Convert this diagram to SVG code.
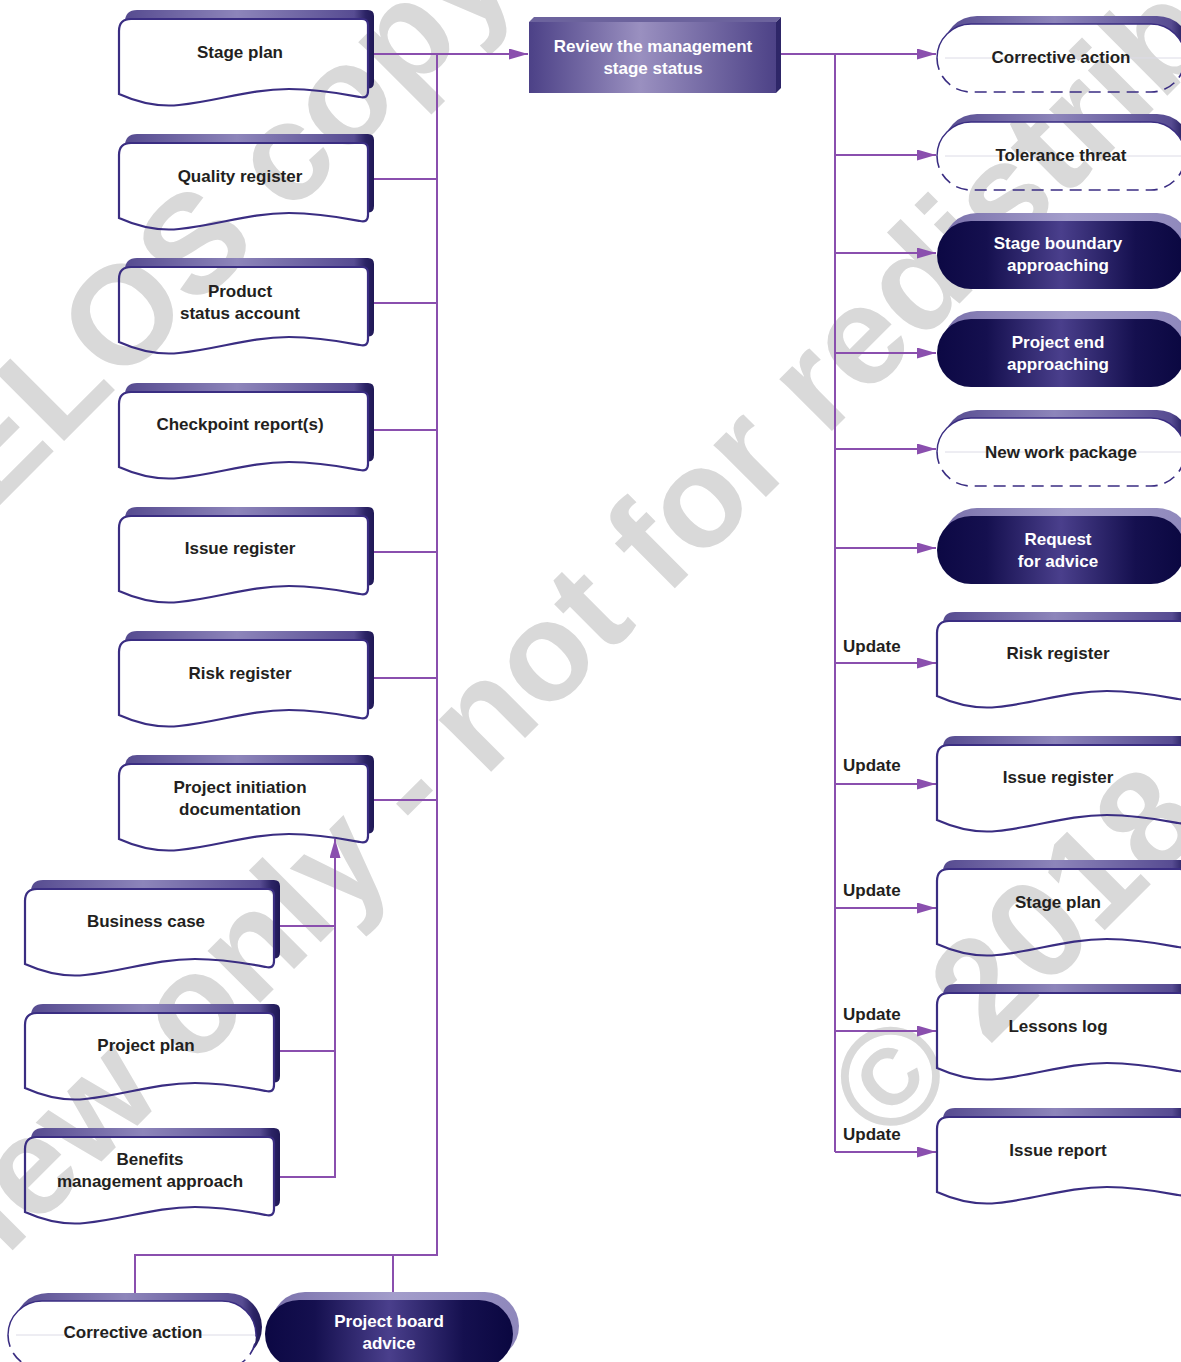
<svg xmlns="http://www.w3.org/2000/svg" width="1181" height="1362" viewBox="0 0 1181 1362">
<defs>
<linearGradient id="gDocBack" x1="0" y1="0" x2="1" y2="0">
<stop offset="0" stop-color="#564b90"/>
<stop offset="0.45" stop-color="#8d85ba"/>
<stop offset="0.92" stop-color="#574c92"/>
<stop offset="0.965" stop-color="#2c2466"/>
<stop offset="1" stop-color="#1f1855"/>
</linearGradient>
<linearGradient id="gDarkBack" x1="0" y1="0" x2="1" y2="0">
<stop offset="0" stop-color="#7a71ab"/>
<stop offset="0.5" stop-color="#a39dcb"/>
<stop offset="1" stop-color="#8e87bb"/>
</linearGradient>
<linearGradient id="gDarkFront" x1="0" y1="0" x2="1" y2="0">
<stop offset="0" stop-color="#0c0844"/>
<stop offset="0.2" stop-color="#15104f"/>
<stop offset="0.5" stop-color="#4a3f8c"/>
<stop offset="0.8" stop-color="#15104f"/>
<stop offset="1" stop-color="#0a0740"/>
</linearGradient>
<linearGradient id="gProc" x1="0" y1="0" x2="1" y2="0">
<stop offset="0" stop-color="#4c4187"/>
<stop offset="0.45" stop-color="#9a90c0"/>
<stop offset="1" stop-color="#4d4287"/>
</linearGradient>
<marker id="arr" viewBox="0 0 19 11" refX="19" refY="5.5" markerWidth="19" markerHeight="11" markerUnits="userSpaceOnUse" orient="auto">
<path d="M0,0 L19,5.5 L0,11 Z" fill="#8a4fae"/>
</marker>
<path id="doc" d="M12,0 L243,0 Q249,0 249,6 L249,72 Q249,80 241,78 C225,75 200,70 170,70 C130,70 100,82 60,86 C40,88 20,84 0,75 L0,12 Q0,0 12,0 Z"/>
<path id="ev" d="M34,0 H214 A34,34 0 0 1 214,68 H34 A34,34 0 0 1 34,0 Z"/>
<path id="evTop" d="M0,34 A34,34 0 0 1 34,0 H214 A34,34 0 0 1 248,34"/>
<path id="evBot" d="M0,34 A34,34 0 0 0 34,68 H214 A34,34 0 0 0 248,34"/>
<mask id="mDoc" maskUnits="userSpaceOnUse" x="-20" y="-20" width="300" height="130">
<rect x="-20" y="-20" width="300" height="130" fill="#ffffff"/>
<use href="#doc" fill="#000000"/>
</mask>
<mask id="mEv" maskUnits="userSpaceOnUse" x="-20" y="-20" width="300" height="110">
<rect x="-20" y="-20" width="300" height="110" fill="#ffffff"/>
<use href="#ev" fill="#000000"/>
</mask>
</defs>
<style>
.t{font-family:"Liberation Sans",Arial,sans-serif;font-weight:bold;font-size:17px;fill:#231f20;text-anchor:middle}
.tw{fill:#ffffff}
.tl{text-anchor:start}
.back{fill:url(#gDocBack)}
.dback{fill:url(#gDarkBack)}
.front{fill:none;stroke:#3a2d82;stroke-width:2.2}
.esolid{fill:none;stroke:#3a2d82;stroke-width:1.4}
.edash{fill:none;stroke:#3a2d82;stroke-width:1.6;stroke-dasharray:12 7}
.mid{stroke:#dcdbe6;stroke-width:1}
.dfront{fill:url(#gDarkFront)}
.con{fill:none;stroke:#8a4fae;stroke-width:2}
.wm{font-family:"Liberation Sans",Arial,sans-serif;font-weight:bold;font-size:140px;fill:#d9d9d9}
</style>
<rect width="1181" height="1362" fill="#ffffff"/>

<g id="watermark">
<text class="wm" x="-146" y="651" transform="rotate(-45 -146 651)">AXELOS copyright</text>
<text class="wm" x="-209" y="1472" transform="rotate(-45 -209 1472)">Preview only - not for redistribution</text>
<text class="wm" x="888" y="1147" transform="rotate(-45 888 1147)">© 2018</text>
</g>

<g id="connectors">
<path class="con" d="M374,54 H528" marker-end="url(#arr)"/>
<path class="con" d="M437,54 V1255 H135 V1293"/>
<path class="con" d="M393,1255 V1293"/>
<path class="con" d="M374,179 H437 M374,303 H437 M374,430 H437 M374,552 H437 M374,678 H437 M374,800 H437"/>
<path class="con" d="M280,926 H335 M280,1051 H335"/>
<path class="con" d="M280,1177 H335 V839" marker-end="url(#arr)"/>
<path class="con" d="M781,54 H936" marker-end="url(#arr)"/>
<path class="con" d="M835,54 V1152"/>
<path class="con" d="M835,155 H936" marker-end="url(#arr)"/>
<path class="con" d="M835,253 H936" marker-end="url(#arr)"/>
<path class="con" d="M835,353 H936" marker-end="url(#arr)"/>
<path class="con" d="M835,449 H936" marker-end="url(#arr)"/>
<path class="con" d="M835,548 H936" marker-end="url(#arr)"/>
<path class="con" d="M835,663 H936" marker-end="url(#arr)"/>
<path class="con" d="M835,784 H936" marker-end="url(#arr)"/>
<path class="con" d="M835,908 H936" marker-end="url(#arr)"/>
<path class="con" d="M835,1031 H936" marker-end="url(#arr)"/>
<path class="con" d="M835,1152 H936" marker-end="url(#arr)"/>
<text class="t tl" x="843" y="652">Update</text>
<text class="t tl" x="843" y="771">Update</text>
<text class="t tl" x="843" y="896">Update</text>
<text class="t tl" x="843" y="1020">Update</text>
<text class="t tl" x="843" y="1140">Update</text>
</g>

<g id="review-stage-status">
<polygon points="529,22 534,17 781,17 776,22" fill="#6c639d"/>
<polygon points="776,22 781,17 781,88 776,93" fill="#2e2668"/>
<rect x="529" y="22" width="247" height="71" fill="url(#gProc)"/>
<text class="t tw" x="653" y="52">Review the management</text>
<text class="t tw" x="653" y="74">stage status</text>
</g>

<g id="doc-stage-plan-in" transform="translate(119,19)">
<g mask="url(#mDoc)"><use href="#doc" class="back" transform="translate(6,-9)"/></g><use href="#doc" class="front"/>
<text class="t" x="121" y="39">Stage plan</text>
</g>
<g id="doc-quality-register" transform="translate(119,143)">
<g mask="url(#mDoc)"><use href="#doc" class="back" transform="translate(6,-9)"/></g><use href="#doc" class="front"/>
<text class="t" x="121" y="39">Quality register</text>
</g>
<g id="doc-product-status-account" transform="translate(119,267)">
<g mask="url(#mDoc)"><use href="#doc" class="back" transform="translate(6,-9)"/></g><use href="#doc" class="front"/>
<text class="t" x="121" y="30">Product</text>
<text class="t" x="121" y="52">status account</text>
</g>
<g id="doc-checkpoint-reports" transform="translate(119,392)">
<g mask="url(#mDoc)"><use href="#doc" class="back" transform="translate(6,-9)"/></g><use href="#doc" class="front"/>
<text class="t" x="121" y="38">Checkpoint report(s)</text>
</g>
<g id="doc-issue-register-in" transform="translate(119,516)">
<g mask="url(#mDoc)"><use href="#doc" class="back" transform="translate(6,-9)"/></g><use href="#doc" class="front"/>
<text class="t" x="121" y="38">Issue register</text>
</g>
<g id="doc-risk-register-in" transform="translate(119,640)">
<g mask="url(#mDoc)"><use href="#doc" class="back" transform="translate(6,-9)"/></g><use href="#doc" class="front"/>
<text class="t" x="121" y="39">Risk register</text>
</g>
<g id="doc-pid" transform="translate(119,764)">
<g mask="url(#mDoc)"><use href="#doc" class="back" transform="translate(6,-9)"/></g><use href="#doc" class="front"/>
<text class="t" x="121" y="29">Project initiation</text>
<text class="t" x="121" y="51">documentation</text>
</g>
<g id="doc-business-case" transform="translate(25,889)">
<g mask="url(#mDoc)"><use href="#doc" class="back" transform="translate(6,-9)"/></g><use href="#doc" class="front"/>
<text class="t" x="121" y="38">Business case</text>
</g>
<g id="doc-project-plan" transform="translate(25,1013)">
<g mask="url(#mDoc)"><use href="#doc" class="back" transform="translate(6,-9)"/></g><use href="#doc" class="front"/>
<text class="t" x="121" y="38">Project plan</text>
</g>
<g id="doc-benefits-approach" transform="translate(25,1137)">
<g mask="url(#mDoc)"><use href="#doc" class="back" transform="translate(6,-9)"/></g><use href="#doc" class="front"/>
<text class="t" x="125" y="28">Benefits</text>
<text class="t" x="125" y="50">management approach</text>
</g>

<g id="ev-corrective-action-out" transform="translate(937,24)">
<g mask="url(#mEv)"><use href="#ev" class="back" transform="translate(6,-8)"/></g>
<line class="mid" x1="8" y1="34" x2="248" y2="34"/>
<use href="#evTop" class="esolid"/><use href="#evBot" class="edash"/>
<text class="t" x="124" y="39">Corrective action</text>
</g>
<g id="ev-tolerance-threat" transform="translate(937,122)">
<g mask="url(#mEv)"><use href="#ev" class="back" transform="translate(6,-8)"/></g>
<line class="mid" x1="8" y1="34" x2="248" y2="34"/>
<use href="#evTop" class="esolid"/><use href="#evBot" class="edash"/>
<text class="t" x="124" y="39">Tolerance threat</text>
</g>
<g id="ev-stage-boundary" transform="translate(937,221)">
<use href="#ev" class="dback" transform="translate(6,-8)"/><use href="#ev" class="dfront"/>
<text class="t tw" x="121" y="28">Stage boundary</text>
<text class="t tw" x="121" y="50">approaching</text>
</g>
<g id="ev-project-end" transform="translate(937,319)">
<use href="#ev" class="dback" transform="translate(6,-8)"/><use href="#ev" class="dfront"/>
<text class="t tw" x="121" y="29">Project end</text>
<text class="t tw" x="121" y="51">approaching</text>
</g>
<g id="ev-new-work-package" transform="translate(937,418)">
<g mask="url(#mEv)"><use href="#ev" class="back" transform="translate(6,-8)"/></g>
<line class="mid" x1="8" y1="34" x2="248" y2="34"/>
<use href="#evTop" class="esolid"/><use href="#evBot" class="edash"/>
<text class="t" x="124" y="40">New work package</text>
</g>
<g id="ev-request-advice" transform="translate(937,516)">
<use href="#ev" class="dback" transform="translate(6,-8)"/><use href="#ev" class="dfront"/>
<text class="t tw" x="121" y="29">Request</text>
<text class="t tw" x="121" y="51">for advice</text>
</g>

<g id="doc-risk-register-out" transform="translate(937,621)">
<g mask="url(#mDoc)"><use href="#doc" class="back" transform="translate(6,-9)"/></g><use href="#doc" class="front"/>
<text class="t" x="121" y="38">Risk register</text>
</g>
<g id="doc-issue-register-out" transform="translate(937,745)">
<g mask="url(#mDoc)"><use href="#doc" class="back" transform="translate(6,-9)"/></g><use href="#doc" class="front"/>
<text class="t" x="121" y="38">Issue register</text>
</g>
<g id="doc-stage-plan-out" transform="translate(937,869)">
<g mask="url(#mDoc)"><use href="#doc" class="back" transform="translate(6,-9)"/></g><use href="#doc" class="front"/>
<text class="t" x="121" y="39">Stage plan</text>
</g>
<g id="doc-lessons-log" transform="translate(937,993)">
<g mask="url(#mDoc)"><use href="#doc" class="back" transform="translate(6,-9)"/></g><use href="#doc" class="front"/>
<text class="t" x="121" y="39">Lessons log</text>
</g>
<g id="doc-issue-report" transform="translate(937,1117)">
<g mask="url(#mDoc)"><use href="#doc" class="back" transform="translate(6,-9)"/></g><use href="#doc" class="front"/>
<text class="t" x="121" y="39">Issue report</text>
</g>

<g id="ev-corrective-action-in" transform="translate(8,1301)">
<g mask="url(#mEv)"><use href="#ev" class="back" transform="translate(6,-8)"/></g>
<line class="mid" x1="8" y1="34" x2="248" y2="34"/>
<use href="#evTop" class="esolid"/><use href="#evBot" class="edash"/>
<text class="t" x="125" y="37">Corrective action</text>
</g>
<g id="ev-project-board-advice" transform="translate(265,1300)">
<use href="#ev" class="dback" transform="translate(6,-8)"/><use href="#ev" class="dfront"/>
<text class="t tw" x="124" y="27">Project board</text>
<text class="t tw" x="124" y="49">advice</text>
</g>
</svg>
